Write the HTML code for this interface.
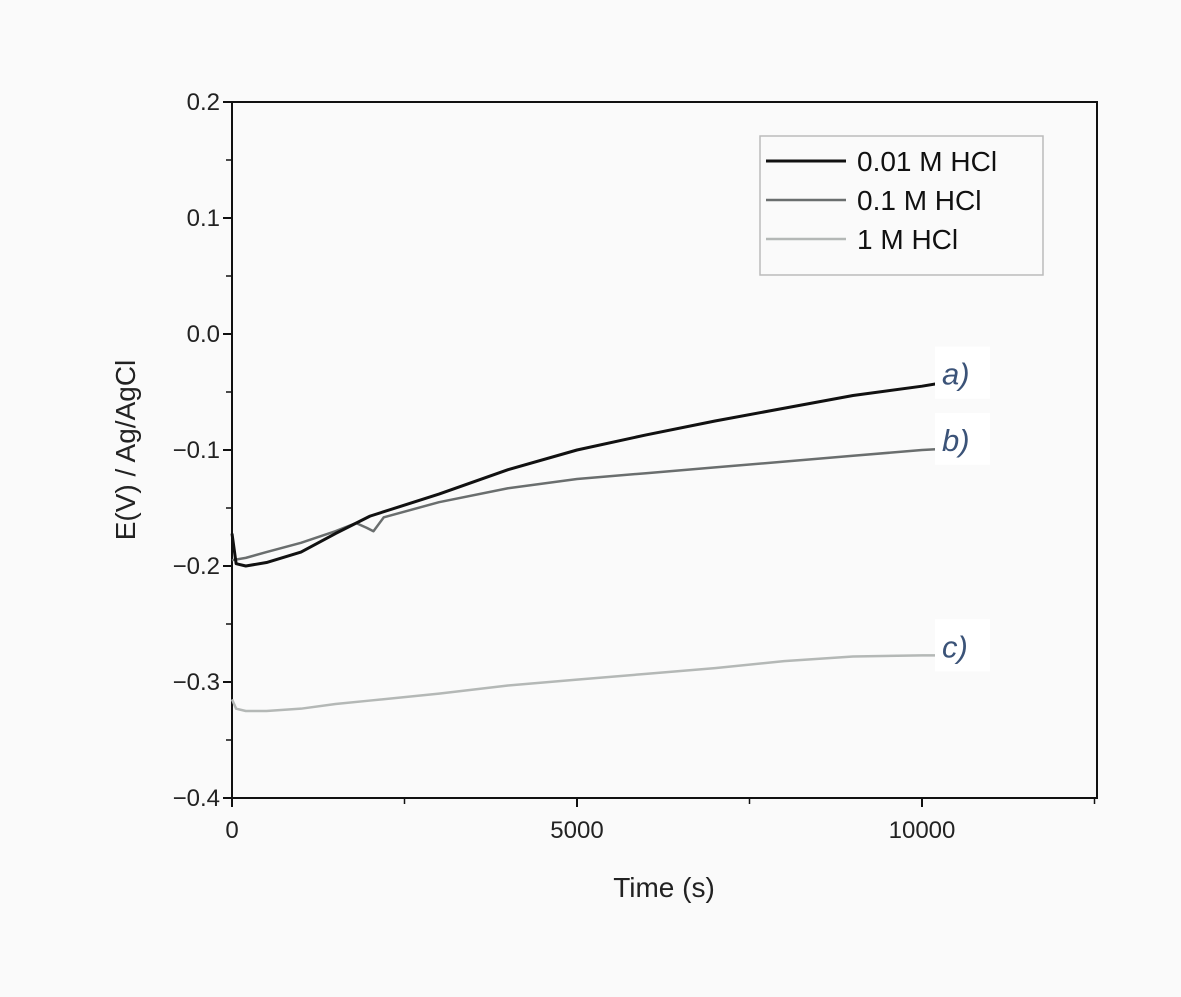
<!DOCTYPE html>
<html><head><meta charset="utf-8"><style>
body{margin:0;background:#fafafa;}
svg{display:block;font-family:"Liberation Sans",sans-serif;}
</style></head><body>
<svg id="chart" width="1181" height="997">
<rect x="0" y="0" width="1181" height="997" fill="#fafafa"/>
<g id="g"></g>
</svg>
<script>
const times=[0,60,200,500,1000,1500,2000,3000,4000,5000,6000,7000,8000,9000,10000,10300];
const seriesA=[-0.172,-0.198,-0.2,-0.197,-0.188,-0.172,-0.157,-0.138,-0.117,-0.1,-0.087,-0.075,-0.064,-0.053,-0.045,-0.042];
const timesB=[0,200,500,1000,1500,1800,1950,2050,2200,3000,4000,5000,6000,7000,8000,9000,10000,10300];
const seriesB=[-0.195,-0.193,-0.188,-0.18,-0.17,-0.163,-0.167,-0.17,-0.158,-0.145,-0.133,-0.125,-0.12,-0.115,-0.11,-0.105,-0.1,-0.099];
const seriesC=[-0.315,-0.323,-0.325,-0.325,-0.323,-0.319,-0.316,-0.31,-0.303,-0.298,-0.293,-0.288,-0.282,-0.278,-0.277,-0.277];
const yTicks=[0.2,0.1,0.0,-0.1,-0.2,-0.3,-0.4];
const xTicks=[0,5000,10000];
const legendLabels=["0.01 M HCl","0.1 M HCl","1 M HCl"];
const curveLabels=["a)","b)","c)"];

const L=232,R=1097,T=102,B=798;
const X=t=>L+t*(922-232)/10000;
const Y=v=>798-(v+0.4)*1160;
const NS="http://www.w3.org/2000/svg";
const g=document.getElementById('g');
function mk(tag,attrs,parent){const e=document.createElementNS(NS,tag);for(const k in attrs)e.setAttribute(k,attrs[k]);(parent||g).appendChild(e);return e;}

let e=mk('rect',{x:L,y:T,width:R-L,height:B-T,fill:'none',stroke:'#111','stroke-width':2});



yTicks.forEach((v,i)=>{
  let t=mk('line',{x1:L-9,x2:L,y1:Y(v),y2:Y(v),stroke:'#111','stroke-width':2});
  
  
  let lb=mk('text',{x:L-12,y:Y(v)+8,'text-anchor':'end','font-size':24,fill:'#222'});
  lb.textContent=(v<0?'\u2212':'')+Math.abs(v).toFixed(1);
  
  
  if(i<yTicks.length-1){
    let m=mk('line',{x1:L-6,x2:L,y1:Y(v-0.05),y2:Y(v-0.05),stroke:'#111','stroke-width':1.5});
    
    
  }
});
[0,2500,5000,7500,10000,12500].forEach(t=>{
  let major=xTicks.includes(t);
  let tk=mk('line',{x1:X(t),x2:X(t),y1:B,y2:B+(major?9:6),stroke:'#111','stroke-width':major?2:1.5});
  
  
});
xTicks.forEach(t=>{
  let lb=mk('text',{x:X(t),y:B+40,'text-anchor':'middle','font-size':24,fill:'#222'});
  lb.textContent=t;
  
  
});
let xt=mk('text',{x:664,y:897,'text-anchor':'middle','font-size':28,fill:'#222'});
xt.textContent='Time (s)';


let yt=mk('text',{x:0,y:0,'text-anchor':'middle','font-size':28,fill:'#222',transform:'translate(135,450) rotate(-90)'});
yt.textContent='E(V) / Ag/AgCl';



function line(ts,vs,color,w,name){
  let p=mk('polyline',{points:ts.map((t,i)=>X(t)+','+Y(vs[i])).join(' '),fill:'none',stroke:color,'stroke-width':w,'stroke-linejoin':'round'});
  
  
}
const colors=['#111','#6a6e6e','#b4b8b6'];
line(times,seriesC,colors[2],2.5,'series-1m-hcl');
line(timesB,seriesB,colors[1],2.5,'series-0.1m-hcl');
line(times,seriesA,colors[0],3,'series-0.01m-hcl');

let lg=mk('rect',{x:760,y:136,width:283,height:139,fill:'#fafafa',stroke:'#bbb','stroke-width':1.5});


legendLabels.forEach((s,i)=>{
  let y=161+i*39;
  let ll=mk('line',{x1:766,x2:846,y1:y,y2:y,stroke:colors[i],'stroke-width':i==0?3:2.5});
  
  
  let tx=mk('text',{x:857,y:y+10,'font-size':28,fill:'#111'});
  tx.textContent=s;
  
  
});
const lastVals=[seriesA[seriesA.length-1],seriesB[seriesB.length-1],seriesC[seriesC.length-1]];
curveLabels.forEach((s,i)=>{
  let y=Y(lastVals[i]);
  let bg=mk('rect',{x:935,y:y-36,width:55,height:52,fill:'#ffffff'});
  
  
  let tx=mk('text',{x:942,y:y+2,'font-size':31,'font-style':'italic',fill:'#3b5378'});
  tx.textContent=s;
  
  
});
</script>
</body></html>
